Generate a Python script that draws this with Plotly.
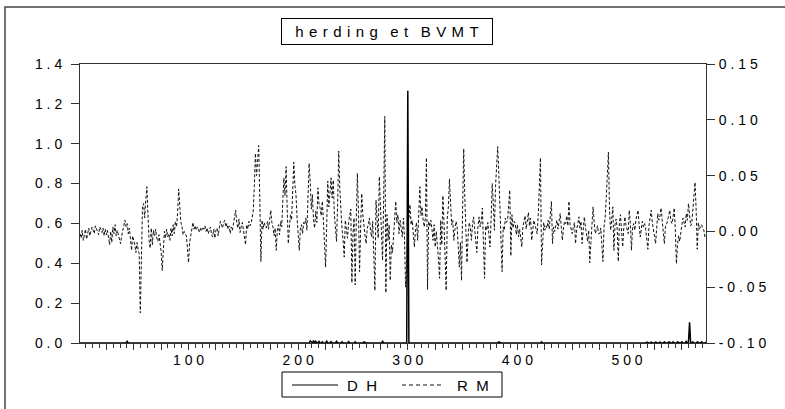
import plotly.graph_objects as go

# ---------------- data ----------------
N_OBS = 572

rm_values = [
    -0.002, -0.006, 0.001, -0.008, -0.003, 0.002, -0.007, -0.001, 0.003, -0.004, 0.002, 0.004, 0.001, -0.002, 0.005, 0.003, 0.000, -0.003, 0.004, 0.002,
    -0.001, 0.003, -0.004, 0.002, -0.003, 0.001, -0.008, -0.012, 0.000, -0.010, 0.004, -0.002, 0.006, -0.004, 0.001, -0.003, -0.006, -0.011, -0.004, 0.002,
    0.005, 0.010, 0.004, 0.007, -0.002, 0.003, -0.006, -0.017, -0.004, -0.008, -0.012, -0.019, -0.010, -0.016, -0.020, -0.073, -0.010, 0.022, 0.025, 0.012,
    0.028, 0.040, 0.015, -0.008, -0.015, 0.003, -0.012, 0.001, -0.004, 0.002, -0.006, -0.009, -0.003, -0.012, -0.018, -0.035, -0.010, 0.000, -0.006, 0.002,
    -0.005, -0.002, -0.008, 0.003, -0.004, 0.006, -0.002, 0.009, 0.004, 0.016, 0.038, 0.025, 0.008, 0.005, -0.003, 0.000, -0.002, -0.004, -0.015, -0.028,
    -0.010, -0.004, 0.003, 0.008, 0.002, 0.005, 0.001, 0.004, 0.002, -0.001, 0.003, 0.001, 0.004, 0.002, 0.005, 0.000, 0.003, -0.002, 0.001, 0.004,
    -0.003, -0.005, 0.002, -0.006, 0.001, 0.003, -0.004, 0.005, 0.009, 0.006, 0.003, 0.008, 0.010, 0.004, 0.007, 0.002, 0.005, -0.002, 0.004, 0.001,
    0.006, 0.012, 0.019, 0.008, 0.003, 0.011, -0.001, 0.004, 0.008, 0.002, -0.004, -0.012, 0.006, 0.002, 0.009, 0.005, 0.007, 0.012, 0.018, 0.040,
    0.070, 0.050, 0.065, 0.077, 0.030, -0.027, 0.010, 0.002, 0.008, 0.004, 0.003, 0.009, 0.002, 0.012, 0.019, 0.008, 0.004, -0.004, 0.003, -0.017,
    0.001, 0.006, -0.003, 0.009, 0.004, 0.028, 0.048, 0.032, 0.058, 0.020, -0.011, 0.004, 0.015, 0.010, 0.038, 0.062, 0.042, 0.033, 0.012, -0.005,
    -0.017, 0.002, 0.006, -0.002, 0.008, 0.006, 0.012, 0.001, 0.028, 0.061, 0.044, 0.020, 0.033, 0.010, 0.003, 0.018, 0.008, 0.039, 0.025, 0.021,
    0.014, 0.027, 0.010, -0.017, -0.032, 0.005, 0.045, 0.022, 0.040, 0.048, 0.030, 0.046, 0.015, 0.004, -0.009, 0.025, 0.072, 0.038, 0.012, 0.002,
    -0.008, -0.023, 0.010, 0.004, -0.006, 0.008, 0.015, 0.020, -0.046, -0.002, 0.012, -0.048, 0.010, 0.052, 0.018, -0.036, 0.005, 0.034, 0.015, 0.002,
    -0.004, -0.011, 0.003, 0.006, 0.012, 0.001, -0.005, 0.009, -0.020, -0.053, 0.028, 0.010, -0.006, 0.049, 0.020, -0.010, -0.026, 0.030, 0.103, -0.055,
    0.015, -0.008, 0.006, -0.044, -0.012, -0.019, 0.002, 0.011, 0.027, 0.008, 0.015, -0.002, 0.010, 0.003, -0.005, 0.012, -0.006, -0.050, -0.030, 0.005,
    0.012, 0.024, 0.006, 0.010, -0.004, -0.014, 0.002, 0.008, -0.008, 0.018, 0.040, 0.014, 0.022, 0.010, 0.004, 0.012, 0.066, -0.052, 0.009, 0.004,
    0.010, 0.002, -0.008, 0.006, -0.014, 0.000, -0.010, -0.025, -0.042, 0.010, -0.012, 0.032, 0.008, -0.020, -0.053, 0.012, 0.022, 0.047, 0.020, 0.006,
    0.010, -0.008, 0.002, 0.009, 0.004, -0.012, -0.032, -0.010, -0.044, 0.020, 0.074, 0.030, 0.002, -0.028, -0.005, 0.008, 0.004, -0.008, 0.006, 0.013,
    0.002, -0.006, -0.019, 0.005, 0.013, 0.004, 0.009, 0.021, -0.010, -0.042, 0.005, 0.001, 0.008, -0.006, -0.014, 0.012, 0.043, 0.025, 0.001, 0.040,
    0.060, 0.076, 0.052, 0.020, -0.015, -0.036, 0.004, 0.001, 0.012, 0.008, 0.010, 0.022, 0.037, -0.022, 0.015, 0.003, 0.009, 0.007, -0.003, 0.006,
    -0.005, 0.002, -0.008, -0.014, 0.004, 0.010, 0.014, 0.002, 0.009, 0.017, 0.005, 0.012, -0.008, 0.003, 0.010, 0.006, 0.001, -0.002, 0.015, 0.038,
    0.066, -0.030, -0.004, 0.008, 0.001, 0.005, 0.003, 0.010, 0.002, 0.012, 0.027, -0.011, 0.004, 0.000, 0.007, 0.010, 0.002, 0.008, 0.016, 0.004,
    -0.008, 0.003, 0.009, 0.007, 0.014, 0.005, 0.027, 0.006, 0.001, -0.002, 0.004, 0.008, -0.011, 0.002, 0.006, 0.013, 0.003, 0.009, -0.011, 0.002,
    0.013, 0.004, -0.003, -0.009, 0.001, -0.028, -0.010, 0.006, 0.022, 0.008, -0.002, 0.001, 0.005, -0.002, -0.002, 0.003, -0.010, -0.027, 0.004, 0.012,
    0.030, 0.055, 0.071, 0.018, 0.001, 0.010, 0.022, -0.017, 0.006, 0.011, 0.002, -0.027, 0.008, 0.015, 0.004, -0.014, 0.003, 0.013, 0.006, 0.001,
    -0.002, 0.019, 0.008, -0.017, 0.003, 0.007, 0.001, 0.010, 0.014, 0.019, 0.006, -0.005, 0.002, 0.009, 0.004, 0.007, 0.002, -0.008, -0.016, 0.005,
    0.012, 0.019, 0.008, 0.003, -0.004, -0.011, 0.006, 0.016, 0.010, 0.014, 0.021, 0.008, 0.001, -0.011, 0.004, 0.006, 0.010, 0.015, 0.019, 0.009,
    0.007, 0.013, 0.021, 0.002, -0.029, -0.012, -0.004, -0.009, 0.002, 0.006, 0.012, 0.008, 0.004, 0.016, 0.010, 0.025, 0.014, 0.005, 0.007, 0.018,
    0.030, 0.044, 0.020, -0.016, 0.008, 0.002, 0.004, 0.006, 0.003, 0.001, -0.005, -0.003,
]

# DH (left axis): zero everywhere except these observations
dh_obs = [44, 211, 212, 214, 216, 219, 222, 226, 230, 235,
          240, 246, 252, 260, 277, 300, 383, 422, 518, 522,
          526, 530, 534, 538, 542, 546, 550, 554, 557, 560,
          564, 568, 572]
dh_vals = [0.008, 0.010, 0.006, 0.012, 0.008, 0.010, 0.006, 0.009, 0.007, 0.008,
           0.006, 0.007, 0.006, 0.005, 0.008, 1.266, 0.005, 0.006, 0.004, 0.005,
           0.004, 0.005, 0.006, 0.005, 0.006, 0.005, 0.006, 0.008, 0.104, 0.006,
           0.005, 0.006, 0.005]

NB = "\u00a0"


def spaced(s, gap=NB):
    return gap.join(list(s))


left_ticks = [0.0, 0.2, 0.4, 0.6, 0.8, 1.0, 1.2, 1.4]
left_labels = ["0.0", "0.2", "0.4", "0.6", "0.8", "1.0", "1.2", "1.4"]
right_ticks = [-0.10, -0.05, 0.0, 0.05, 0.10, 0.15]
right_labels = ["-0.10", "-0.05", "0.00", "0.05", "0.10", "0.15"]
x_ticks = list(range(25, 575, 25))
x_labels = {100: "100", 200: "200", 300: "300", 400: "400", 500: "500"}
series_names = ["DH", "RM"]
title_words = ["herding", "et", "BVMT"]

# ---------------- build ----------------
obs = list(range(1, len(rm_values) + 1))
dh = [0.0] * len(obs)
for t, v in zip(dh_obs, dh_vals):
    dh[t - 1] = v

W, H = 785, 409
L, R, T, B = 80, 706, 64, 343   # plot area in pixels


def px_x(p):
    return (p - L) / (R - L)


def px_y(p):
    return (B - p) / (B - T)


FONT = "Liberation Sans, Arial, sans-serif"
AX = "#333333"
DH_LINE = dict(color="black", width=1.5)
RM_LINE = dict(color="#111111", width=1, dash="3px,2px")

fig = go.Figure()
fig.add_trace(go.Scatter(x=obs, y=dh, name=series_names[0], mode="lines",
                         line=DH_LINE, yaxis="y", showlegend=False))
fig.add_trace(go.Scatter(x=obs, y=rm_values, name=series_names[1], mode="lines",
                         line=RM_LINE, yaxis="y2", showlegend=False))

fig.update_layout(
    width=W, height=H,
    margin=dict(l=L, r=W - R, t=T, b=H - B, pad=0, autoexpand=False),
    paper_bgcolor="white", plot_bgcolor="white",
    font=dict(family=FONT, size=14, color="black"),
    showlegend=False,
    xaxis=dict(range=[1, N_OBS], showgrid=False, zeroline=False,
               showline=True, linecolor=AX, linewidth=1, mirror=True,
               ticks="outside", ticklen=6, tickcolor=AX, tickwidth=1,
               tickmode="array", tickvals=x_ticks,
               ticktext=[spaced(x_labels[v]) if v in x_labels else "" for v in x_ticks],
               ticklabelstandoff=-2,
               minor=dict(tickmode="linear", tick0=0, dtick=6.25, ticks="outside",
                          ticklen=4, tickcolor=AX, showgrid=False)),
    yaxis=dict(range=[0, 1.4], showgrid=False, zeroline=False,
               showline=True, linecolor=AX, linewidth=1,
               ticks="outside", ticklen=8, tickcolor=AX,
               tickmode="array", tickvals=left_ticks,
               ticktext=[spaced(s) for s in left_labels],
               ticklabelstandoff=6),
    yaxis2=dict(range=[-0.10, 0.15], overlaying="y", side="right",
                showgrid=False, zeroline=False,
                showline=True, linecolor=AX, linewidth=1,
                ticks="outside", ticklen=8, tickcolor=AX,
                tickmode="array", tickvals=right_ticks,
                ticktext=[spaced(s) for s in right_labels],
                ticklabelstandoff=1),
)

# title box
title_text = (NB * 3).join(spaced(w, NB + "\u200a") for w in title_words)
fig.add_annotation(text=title_text, xref="paper", yref="paper",
                   x=px_x(387), y=px_y(31), xanchor="center", yanchor="middle",
                   showarrow=False, font=dict(size=15, family=FONT),
                   bordercolor="black", borderwidth=1, borderpad=4, width=202)

# legend box (EViews style, below the axis)
LEG_Y = 385
fig.add_shape(type="rect", xref="paper", yref="paper",
              x0=px_x(282), x1=px_x(502), y0=px_y(397), y1=px_y(372),
              line=dict(color="black", width=1), fillcolor="white")
fig.add_shape(type="line", xref="paper", yref="paper",
              x0=px_x(292), x1=px_x(338), y0=px_y(LEG_Y), y1=px_y(LEG_Y),
              line=dict(color="black", width=1))
fig.add_shape(type="line", xref="paper", yref="paper",
              x0=px_x(402), x1=px_x(443), y0=px_y(LEG_Y), y1=px_y(LEG_Y),
              line=dict(color="#111111", width=1, dash="4px,3px"))
fig.add_annotation(text=spaced(series_names[0], NB + NB), xref="paper", yref="paper",
                   x=px_x(362), y=px_y(LEG_Y), xanchor="center", yanchor="middle",
                   showarrow=False, font=dict(size=15, family=FONT))
fig.add_annotation(text=spaced(series_names[1], NB + NB), xref="paper", yref="paper",
                   x=px_x(473), y=px_y(LEG_Y), xanchor="center", yanchor="middle",
                   showarrow=False, font=dict(size=15, family=FONT))

# outer frame of the graph (extends past the window on right and bottom)
fig.add_shape(type="rect", xref="paper", yref="paper",
              x0=px_x(5), x1=px_x(800), y0=px_y(430), y1=px_y(7),
              line=dict(color="#444444", width=1.5), fillcolor="rgba(0,0,0,0)",
              layer="below")

fig.write_html("out.html", config={"displayModeBar": False},
               post_script="document.body.style.margin='0px';document.body.style.overflow='hidden';")
